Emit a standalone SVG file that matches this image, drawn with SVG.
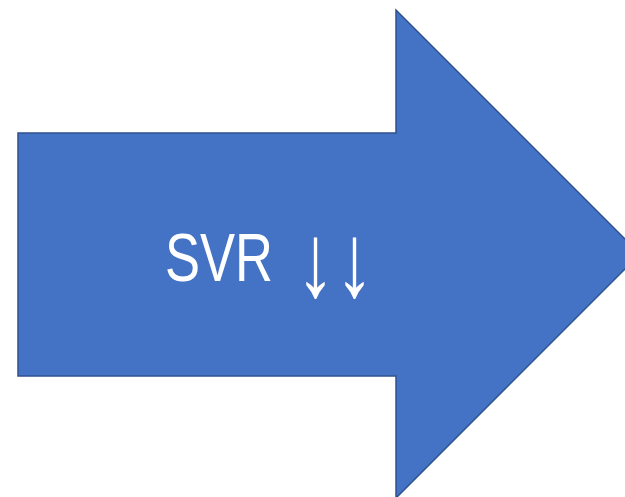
<svg xmlns="http://www.w3.org/2000/svg" width="625" height="497" viewBox="0 0 625 497">
<style>
.arrow{fill:#4472C4;stroke:#2F528F;stroke-width:1.5}
.lbl{fill:#FFFFFF;font-family:"Liberation Sans","DejaVu Sans",sans-serif;font-size:68px}
.dn{font-size:104px}
</style>
<rect width="625" height="497" fill="#FFFFFF"/>
<g id="arrow">
<polygon class="arrow" points="18,133 396,133 396,10 640,254 396,498 396,376 18,376"/>
<text class="lbl" x="165" y="281" textLength="108" lengthAdjust="spacingAndGlyphs">SVR</text>
<text class="lbl dn" x="296" y="296" textLength="78" lengthAdjust="spacingAndGlyphs">↓↓</text>
</g>
</svg>
